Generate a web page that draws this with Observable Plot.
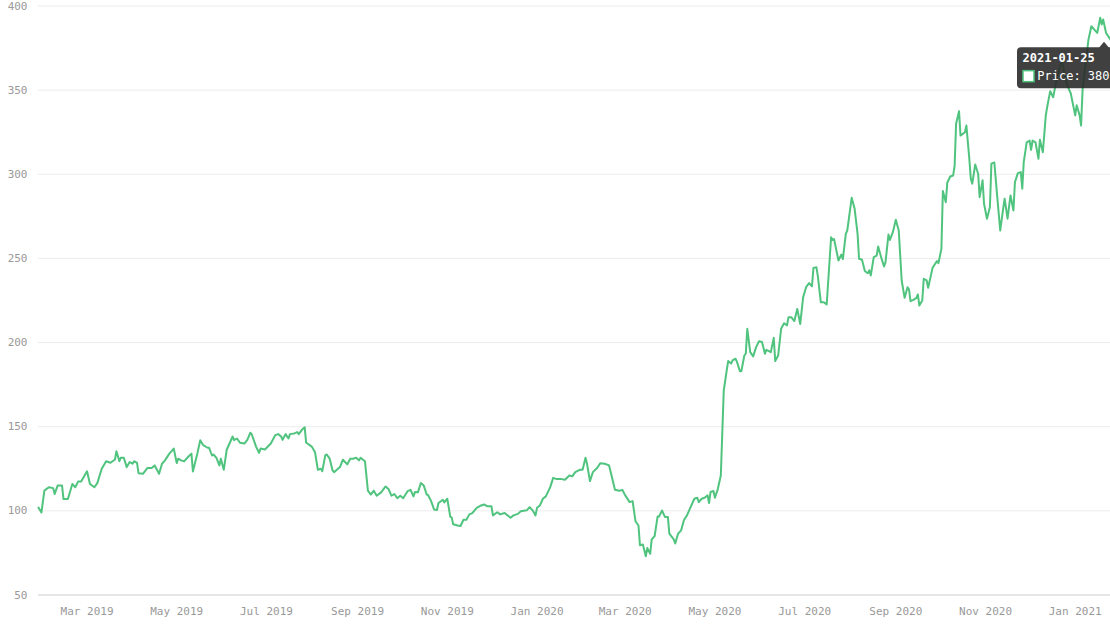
<!DOCTYPE html>
<html><head><meta charset="utf-8">
<script src="https://cdn.jsdelivr.net/npm/d3@7"></script>
<script src="https://cdn.jsdelivr.net/npm/@observablehq/plot@0.6"></script>
<style>body{margin:0;background:#fff}#chart svg{display:block}</style>
</head><body><div id="chart"></div>
<script>
const dates = [
"2019-01-27","2019-01-29","2019-01-31","2019-02-03","2019-02-06","2019-02-07","2019-02-09","2019-02-12","2019-02-13","2019-02-16","2019-02-19","2019-02-21","2019-02-23","2019-02-25",
"2019-03-01","2019-03-03","2019-03-06","2019-03-08","2019-03-11","2019-03-14","2019-03-17","2019-03-20","2019-03-21","2019-03-23","2019-03-24","2019-03-26","2019-03-28","2019-03-30",
"2019-04-01","2019-04-02","2019-04-04","2019-04-05","2019-04-08","2019-04-11","2019-04-14","2019-04-16","2019-04-19","2019-04-21","2019-04-23","2019-04-26","2019-04-29",
"2019-05-01","2019-05-02","2019-05-04","2019-05-06","2019-05-09","2019-05-11","2019-05-12","2019-05-15","2019-05-17","2019-05-19","2019-05-22","2019-05-23","2019-05-25","2019-05-26","2019-05-28","2019-05-30","2019-05-31",
"2019-06-02","2019-06-04","2019-06-08","2019-06-09","2019-06-11","2019-06-13","2019-06-16","2019-06-18","2019-06-20","2019-06-21","2019-06-24","2019-06-26","2019-06-27","2019-06-30",
"2019-07-04","2019-07-07","2019-07-09","2019-07-11","2019-07-12","2019-07-14","2019-07-16","2019-07-17","2019-07-20","2019-07-22","2019-07-23","2019-07-25","2019-07-27","2019-07-28",
"2019-08-01","2019-08-03","2019-08-05","2019-08-07","2019-08-08","2019-08-10","2019-08-11","2019-08-13","2019-08-15","2019-08-16","2019-08-20","2019-08-22","2019-08-25","2019-08-27","2019-08-29","2019-08-31",
"2019-09-02","2019-09-03","2019-09-06","2019-09-08","2019-09-10","2019-09-12","2019-09-14","2019-09-17","2019-09-20","2019-09-22","2019-09-24","2019-09-26","2019-09-28","2019-09-30",
"2019-10-02","2019-10-05","2019-10-07","2019-10-09","2019-10-10","2019-10-12","2019-10-14","2019-10-16","2019-10-18","2019-10-19","2019-10-21","2019-10-23","2019-10-25","2019-10-26","2019-10-29","2019-10-30",
"2019-11-01","2019-11-03","2019-11-04","2019-11-05","2019-11-08","2019-11-10","2019-11-12","2019-11-14","2019-11-16","2019-11-18","2019-11-21","2019-11-24","2019-11-26","2019-11-28",
"2019-12-01","2019-12-02","2019-12-05","2019-12-07","2019-12-10","2019-12-14","2019-12-16","2019-12-19","2019-12-21","2019-12-25","2019-12-27","2019-12-29","2019-12-31",
"2020-01-01","2020-01-03","2020-01-05","2020-01-07","2020-01-10","2020-01-12","2020-01-14","2020-01-17","2020-01-20","2020-01-23","2020-01-25","2020-01-27","2020-01-30",
"2020-02-01","2020-02-03","2020-02-04","2020-02-06","2020-02-08","2020-02-11","2020-02-13","2020-02-16","2020-02-19","2020-02-20","2020-02-23","2020-02-26","2020-02-28",
"2020-03-01","2020-03-04","2020-03-06","2020-03-08","2020-03-10","2020-03-11","2020-03-13","2020-03-15","2020-03-16","2020-03-18","2020-03-19","2020-03-21","2020-03-23","2020-03-24","2020-03-26","2020-03-28","2020-03-30","2020-03-31",
"2020-04-03","2020-04-04","2020-04-06","2020-04-08","2020-04-10","2020-04-12","2020-04-14","2020-04-17","2020-04-19","2020-04-20","2020-04-22","2020-04-24","2020-04-26","2020-04-27","2020-04-28","2020-04-30",
"2020-05-01","2020-05-03","2020-05-05","2020-05-07","2020-05-09","2020-05-10","2020-05-12","2020-05-13","2020-05-15","2020-05-16","2020-05-18","2020-05-19","2020-05-21","2020-05-22","2020-05-23","2020-05-25","2020-05-27","2020-05-29","2020-05-31",
"2020-06-02","2020-06-04","2020-06-05","2020-06-08","2020-06-10","2020-06-11","2020-06-13","2020-06-15","2020-06-17","2020-06-19","2020-06-20","2020-06-22","2020-06-24","2020-06-26","2020-06-28","2020-06-30",
"2020-07-02","2020-07-04","2020-07-06","2020-07-07","2020-07-09","2020-07-10","2020-07-12","2020-07-14","2020-07-16","2020-07-19","2020-07-20","2020-07-21","2020-07-24","2020-07-26","2020-07-27","2020-07-29","2020-07-30",
"2020-08-02","2020-08-04","2020-08-06","2020-08-07","2020-08-09","2020-08-11","2020-08-13","2020-08-14","2020-08-15","2020-08-17","2020-08-19","2020-08-20","2020-08-22","2020-08-24","2020-08-25","2020-08-27","2020-08-28","2020-08-30",
"2020-09-01","2020-09-03","2020-09-05","2020-09-07","2020-09-09","2020-09-10","2020-09-11","2020-09-13","2020-09-15","2020-09-16","2020-09-17","2020-09-19","2020-09-20","2020-09-22","2020-09-23","2020-09-26","2020-09-27","2020-09-29","2020-09-30",
"2020-10-02","2020-10-03","2020-10-05","2020-10-06","2020-10-08","2020-10-10","2020-10-11","2020-10-12","2020-10-14","2020-10-15","2020-10-18","2020-10-19","2020-10-21","2020-10-22","2020-10-23","2020-10-25","2020-10-27","2020-10-28","2020-10-30","2020-10-31",
"2020-11-02","2020-11-04","2020-11-05","2020-11-07","2020-11-09","2020-11-11","2020-11-13","2020-11-14","2020-11-16","2020-11-18","2020-11-20","2020-11-21","2020-11-23","2020-11-25","2020-11-26","2020-11-27","2020-11-29",
"2020-12-01","2020-12-02","2020-12-03","2020-12-05","2020-12-07","2020-12-08","2020-12-10","2020-12-12","2020-12-13","2020-12-15","2020-12-17","2020-12-19","2020-12-21","2020-12-23","2020-12-25","2020-12-27","2020-12-29",
"2021-01-01","2021-01-02","2021-01-04","2021-01-05","2021-01-06","2021-01-08","2021-01-10","2021-01-12","2021-01-14","2021-01-16","2021-01-18","2021-01-19","2021-01-20","2021-01-22","2021-01-25"
];
const prices = [
102,99,112,114,113.5,110,115,115,107,107,116,114,117.5,117.5,
123.5,116,114,116.5,125,129.5,128.6,130.5,135.4,129.5,131.6,131.6,126,129,
128,129.5,128.5,122.4,122,125.4,125.5,127,122,128,130,134,137,
128.4,131,130,129.4,132.3,134,123.4,134,142,139,137.5,137.5,132.9,133.5,131.5,127,131,
124.4,136.3,144.2,142,143,140.5,140,142.2,146.4,145.5,138,134.5,137,136.5,
140,145,145.6,144.2,142.2,145.6,143,145.6,146,146.8,145.6,148,149.7,140.6,
138,135,124.4,125,123.6,133,133.5,131,124,123,126,130.4,127.6,131,131,131.6,
130,131.6,129.5,112,109.7,112,109,111,114.5,113,109,110,107.5,109,
107.5,111.7,112.5,108.6,111.2,111,116.5,115,109.7,109.3,105.8,100.8,100.5,104.7,106.6,105,
107.2,96.6,96,92,91.3,91,94.7,94.7,97.9,98.7,101.8,103.2,103.8,102.8,
102.8,97.3,99.2,97.9,98.7,95.9,97.3,98.2,99.8,100.3,102.2,100.3,97.3,
101.8,103.2,107.2,108.6,114.1,119.6,119,119,118.5,121,120.5,123,124.4,
124.4,131.6,128,117.7,123,125.6,128.3,128,127,123.6,112.5,111.9,112.5,
109.2,105.2,105.8,93.8,91.3,79.6,80,73,77.9,74.5,83,85,96.6,96.6,100.2,96.4,96.4,86.5,
83,80.6,86.5,88.4,94.7,97.3,101.3,107.2,107.8,105.2,107.2,107.8,109.2,104.6,111.2,111.8,
107.8,113.1,121,171.5,183.4,189,187.5,189.4,190.4,188.5,183,183,192.3,193.5,208.2,194.3,191.8,197.3,200.8,
200.3,193.4,195.7,194.3,202.8,189,192.3,208.2,211.5,210.2,215,215,212.8,220,211,227,
232.9,235.3,233.5,244.4,244.8,239.3,224,224,222.6,262.6,261,261.5,248.8,252.3,249.6,264.6,266.6,
286,279.5,264.6,249.8,249.2,242.4,241.2,243,239.9,250.8,251.7,257.1,250.8,245.2,247.7,264.2,261,265.6,
273,266.6,236.9,226.6,232.9,231.5,224.6,225.4,226.6,228.6,222,225,237.9,236.9,232.6,244.4,245.8,248.4,247.2,
255.7,290,283.4,295,298.7,299.3,305,330,337.5,323,325,329,309.2,297.3,294.4,305.8,300.3,286.4,296.4,282.5,
273.6,280.5,306.3,307,286.4,266.6,279.5,285.5,273.6,287.4,278.5,295.3,300.7,301.3,291.4,307.2,319,
320,314.5,320,319,309.2,320.5,313.1,335,340.3,349.4,345.8,354.7,362,368,358,352,348,
335,341,335,329,350,365,380,388,386,384,393,389,392,384,380
];
const yTicks = [50, 100, 150, 200, 250, 300, 350, 400];
const xTickDates = ["2019-03-01","2019-05-01","2019-07-01","2019-09-01","2019-11-01","2020-01-01","2020-03-01","2020-05-01","2020-07-01","2020-09-01","2020-11-01","2021-01-01"];
const xDomain = ["2019-01-27", "2021-01-25"];
const yDomain = [50, 400];
const seriesName = "Price";

const data = dates.map((d, i) => ({date: new Date(d), price: prices[i]}));
const lineColor = "#50c47e";
const font = "'DejaVu Sans Mono', monospace";

const chart = Plot.plot({
  width: 1110, height: 624,
  marginLeft: 38, marginRight: 0, marginTop: 5.5, marginBottom: 29.5,
  style: {fontFamily: font, fontSize: "11px", color: "#999", background: "#fff"},
  x: {type: "utc", domain: xDomain.map(d => new Date(d))},
  y: {domain: yDomain},
  marks: [
    Plot.gridY(yTicks, {stroke: "#ececec", strokeOpacity: 1}),
    Plot.ruleY([yDomain[0]], {stroke: "#d8d8d8"}),
    Plot.axisY(yTicks, {tickSize: 0, tickPadding: 11, fill: "#999", label: null}),
    Plot.axisX(xTickDates.map(d => new Date(d)), {tickSize: 0, tickPadding: 12, tickFormat: d3.utcFormat("%b %Y"), fill: "#999", label: null}),
    Plot.line(data, {x: "date", y: "price", stroke: lineColor, strokeWidth: 2, strokeLinejoin: "round"})
  ]
});
document.getElementById("chart").appendChild(chart);

// tooltip for the last point
const last = data[data.length - 1];
const px = chart.scale("x").apply(last.date);
const py = chart.scale("y").apply(last.price);
const g = d3.select(chart).append("g").attr("font-family", font).attr("font-size", 12).attr("text-anchor", "start");
g.append("path")
  .attr("d", `M${px-93+4},${py+8}H${px+10}V${py+49}H${px-93+4}a4,4 0 0 1 -4,-4V${py+12}a4,4 0 0 1 4,-4Z`)
  .attr("fill", "#2b2b2b").attr("fill-opacity", 0.9);
g.append("path")
  .attr("d", `M${px-11},${py+8.5}L${px-6},${py+2.5}L${px-1},${py+8.5}Z`)
  .attr("fill", "#2b2b2b").attr("fill-opacity", 0.9);
g.append("text").attr("x", px-87.5).attr("y", py+23).attr("fill", "#fff").attr("font-weight", "bold")
  .attr("text-anchor", "start")
  .text(d3.utcFormat("%Y-%m-%d")(last.date));
g.append("rect").attr("x", px-87).attr("y", py+31.5).attr("width", 11).attr("height", 11)
  .attr("fill", "#fff").attr("stroke", lineColor).attr("stroke-width", 1.5);
g.append("text").attr("x", px-72.7).attr("y", py+41).attr("fill", "#fff")
  .attr("text-anchor", "start")
  .text(`${seriesName}: ${last.price}`);
</script>
</body></html>
